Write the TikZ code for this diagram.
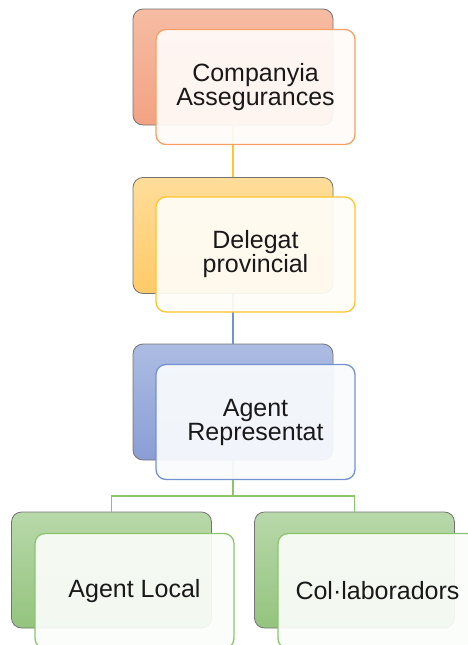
\documentclass[tikz,border=0pt]{standalone}
\usepackage{fontspec}
\setmainfont{Liberation Sans}
\usetikzlibrary{positioning}

\definecolor{orangetop}{HTML}{F6BCA3}
\definecolor{orangebot}{HTML}{F3A282}
\definecolor{orangeline}{HTML}{F6A064}
\definecolor{yellowtop}{HTML}{FFDD99}
\definecolor{yellowbot}{HTML}{FFCA68}
\definecolor{yellowline}{HTML}{FFC52E}
\definecolor{bluetop}{HTML}{ACBCE2}
\definecolor{bluebot}{HTML}{8A9ED6}
\definecolor{blueline}{HTML}{7293D0}
\definecolor{greentop}{HTML}{B8D8AA}
\definecolor{greenbot}{HTML}{94C47E}
\definecolor{greenline}{HTML}{8CC46E}

\tikzset{
  backbox/.style={draw=black!55, line width=0.8pt, rounded corners=10pt,
    minimum width=200pt, minimum height=116pt},
  frontbox/.style={draw=#1, line width=1.3pt, rounded corners=10pt,
    minimum width=199pt, minimum height=115pt, fill=#1!4!white,
    fill opacity=0.93, text opacity=1, align=center, text=black!90,
    font=\fontsize{25}{24}\selectfont},
  link/.style={line width=1.3pt}
}

\begin{document}
\begin{tikzpicture}[x=1pt, y=-1pt]
      \clip (0,0) rectangle (468,645);

      % Back boxes
      \node (ciaback) [backbox, top color=orangetop, bottom color=orangebot] at (233,67) {};
      \node (delback) [backbox, top color=yellowtop, bottom color=yellowbot] at (233,235.5) {};
      \node (repback) [backbox, top color=bluetop, bottom color=bluebot] at (233,402) {};
      \node (localback) [backbox, top color=greentop, bottom color=greenbot] at (111.5,570) {};
      \node (colback) [backbox, top color=greentop, bottom color=greenbot] at (354.5,570) {};
      \coordinate (fork) at (233,496);

      % Links
      \draw[link, yellowline] (ciaback.south) -- (delback.north);
      \draw[link, blueline] (delback.south) -- (repback.north);
      \draw[link, greenline] (repback.south) -- (fork) -| (localback.north);
      \draw[link, greenline] (fork) -| (colback.north);

      % Front boxes
      \node (cia) [frontbox=orangeline] at ([xshift=22.5pt, yshift=-20pt]ciaback.center) {Companyia\\Assegurances};
      \node (del) [frontbox=yellowline] at ([xshift=22.5pt, yshift=-19pt]delback.center) {Delegat\\provincial};
      \node (rep) [frontbox=blueline] at ([xshift=22.5pt, yshift=-20pt]repback.center) {Agent\\Representat};
      \node (local) [frontbox=greenline] at ([xshift=23pt, yshift=-21pt]localback.center) {Agent Local};
      \node (col) [frontbox=greenline] at ([xshift=23pt, yshift=-21pt]colback.center) {Col·laboradors};
  \end{tikzpicture}
\end{document}
